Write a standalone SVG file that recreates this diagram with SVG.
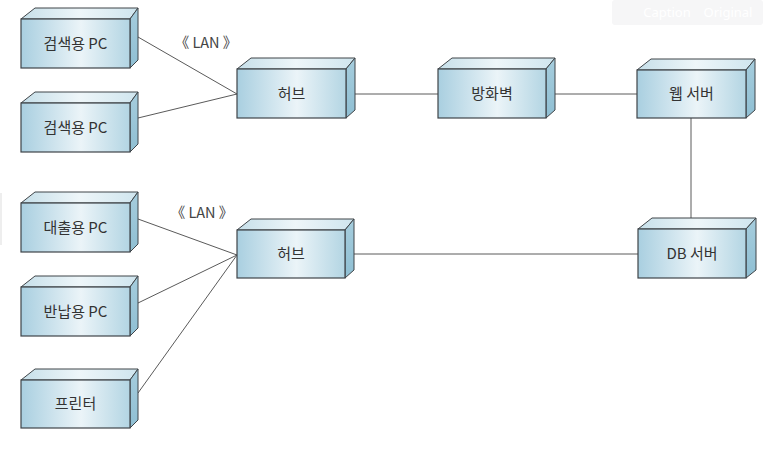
<svg xmlns="http://www.w3.org/2000/svg" width="763" height="458" viewBox="0 0 763 458">
  <defs>
    <linearGradient id="gFront" x1="0" y1="0" x2="1" y2="0">
      <stop offset="0" stop-color="#a9cfe0"/>
      <stop offset="0.55" stop-color="#ebf4f8"/>
      <stop offset="1" stop-color="#b3d5e3"/>
    </linearGradient>
    <linearGradient id="gTop" x1="0" y1="0" x2="1" y2="0">
      <stop offset="0" stop-color="#c6dfe9"/>
      <stop offset="0.5" stop-color="#eef6f9"/>
      <stop offset="1" stop-color="#cfe5ee"/>
    </linearGradient>
    <linearGradient id="gSide" x1="0" y1="0" x2="0" y2="1">
      <stop offset="0" stop-color="#a6cddd"/>
      <stop offset="1" stop-color="#8fbfd3"/>
    </linearGradient>
  </defs>
  <style>
    .front { fill: url(#gFront); stroke: #3f4448; stroke-width: 1.2; }
    .top { fill: url(#gTop); stroke: #3f4448; stroke-width: 1; stroke-linejoin: round; }
    .side { fill: url(#gSide); stroke: #3f4448; stroke-width: 1; stroke-linejoin: round; }
    .label { font-family: "Noto Sans CJK KR", "Noto Sans", "Liberation Sans", sans-serif; font-size: 15px; fill: #333; text-anchor: middle; }
    .stereo { font-family: "Noto Sans CJK KR", "Noto Sans", "Liberation Sans", sans-serif; font-size: 14.5px; fill: #444; text-anchor: middle; }
    .conn line { stroke: #5a5a5a; stroke-width: 1; fill: none; }
    .ui { font-family: "Noto Sans", "Liberation Sans", sans-serif; font-size: 13px; fill: #ffffff; }
  </style>
  <rect width="763" height="458" fill="#ffffff"/>

  <!-- faint screenshot overlay -->
  <g id="overlay">
    <rect x="612" y="0" width="151" height="25" rx="3" fill="#f6f6f7"/>
    <text class="ui" x="667" y="17" text-anchor="middle">Caption</text>
    <text class="ui" x="728" y="17" text-anchor="middle">Original</text>
    <rect x="0" y="193" width="2" height="52" fill="#eeeeee"/>
  </g>

  <g id="connectors" class="conn">
    <line x1="138" y1="37" x2="237" y2="94"/>
    <line x1="138" y1="118" x2="237" y2="94"/>
    <line x1="355" y1="94" x2="438" y2="94"/>
    <line x1="555" y1="94" x2="637" y2="94"/>
    <line x1="691" y1="118" x2="691" y2="218"/>
    <line x1="354" y1="254" x2="638" y2="254"/>
    <line x1="138" y1="219" x2="237" y2="255"/>
    <line x1="138" y1="303" x2="237" y2="255"/>
    <line x1="138" y1="393" x2="237" y2="255"/>
  </g>

  <text class="stereo" x="206" y="48">《 LAN 》</text>
  <text class="stereo" x="202" y="218">《 LAN 》</text>

  <g id="pc-search-1">
    <polygon class="top" points="21,19 35,8 138,8 130,19"/>
    <polygon class="side" points="130,19 138,8 138,60 130,68"/>
    <rect class="front" x="21" y="19" width="109" height="49"/>
    <text class="label" x="75.5" y="49">검색용 PC</text>
  </g>

  <g id="pc-search-2">
    <polygon class="top" points="21,103 35,92 138,92 130,103"/>
    <polygon class="side" points="130,103 138,92 138,144 130,152"/>
    <rect class="front" x="21" y="103" width="109" height="49"/>
    <text class="label" x="75.5" y="133">검색용 PC</text>
  </g>

  <g id="pc-loan">
    <polygon class="top" points="21,203 35,192 138,192 130,203"/>
    <polygon class="side" points="130,203 138,192 138,244 130,252"/>
    <rect class="front" x="21" y="203" width="109" height="49"/>
    <text class="label" x="75.5" y="233">대출용 PC</text>
  </g>

  <g id="pc-return">
    <polygon class="top" points="21,287 35,276 138,276 130,287"/>
    <polygon class="side" points="130,287 138,276 138,328 130,336"/>
    <rect class="front" x="21" y="287" width="109" height="49"/>
    <text class="label" x="75.5" y="317">반납용 PC</text>
  </g>

  <g id="printer">
    <polygon class="top" points="21,380 35,369 138,369 130,380"/>
    <polygon class="side" points="130,380 138,369 138,420 130,428"/>
    <rect class="front" x="21" y="380" width="109" height="48"/>
    <text class="label" x="75.5" y="409">프린터</text>
  </g>

  <g id="hub-1">
    <polygon class="top" points="237,69 251,58 355,58 346,69"/>
    <polygon class="side" points="346,69 355,58 355,110 346,118"/>
    <rect class="front" x="237" y="69" width="109" height="49"/>
    <text class="label" x="291.5" y="99">허브</text>
  </g>

  <g id="firewall">
    <polygon class="top" points="438,69 452,58 555,58 546,69"/>
    <polygon class="side" points="546,69 555,58 555,110 546,118"/>
    <rect class="front" x="438" y="69" width="108" height="49"/>
    <text class="label" x="492" y="99">방화벽</text>
  </g>

  <g id="web-server">
    <polygon class="top" points="637,70 651,59 755,59 746,70"/>
    <polygon class="side" points="746,70 755,59 755,110 746,118"/>
    <rect class="front" x="637" y="70" width="109" height="48"/>
    <text class="label" x="691.5" y="99">웹 서버</text>
  </g>

  <g id="hub-2">
    <polygon class="top" points="237,230 251,219 354,219 345,230"/>
    <polygon class="side" points="345,230 354,219 354,270 345,278"/>
    <rect class="front" x="237" y="230" width="108" height="48"/>
    <text class="label" x="291" y="259">허브</text>
  </g>

  <g id="db-server">
    <polygon class="top" points="638,229 652,218 756,218 746,229"/>
    <polygon class="side" points="746,229 756,218 756,270 746,278"/>
    <rect class="front" x="638" y="229" width="108" height="49"/>
    <text class="label" x="692" y="259">DB 서버</text>
  </g>
</svg>
